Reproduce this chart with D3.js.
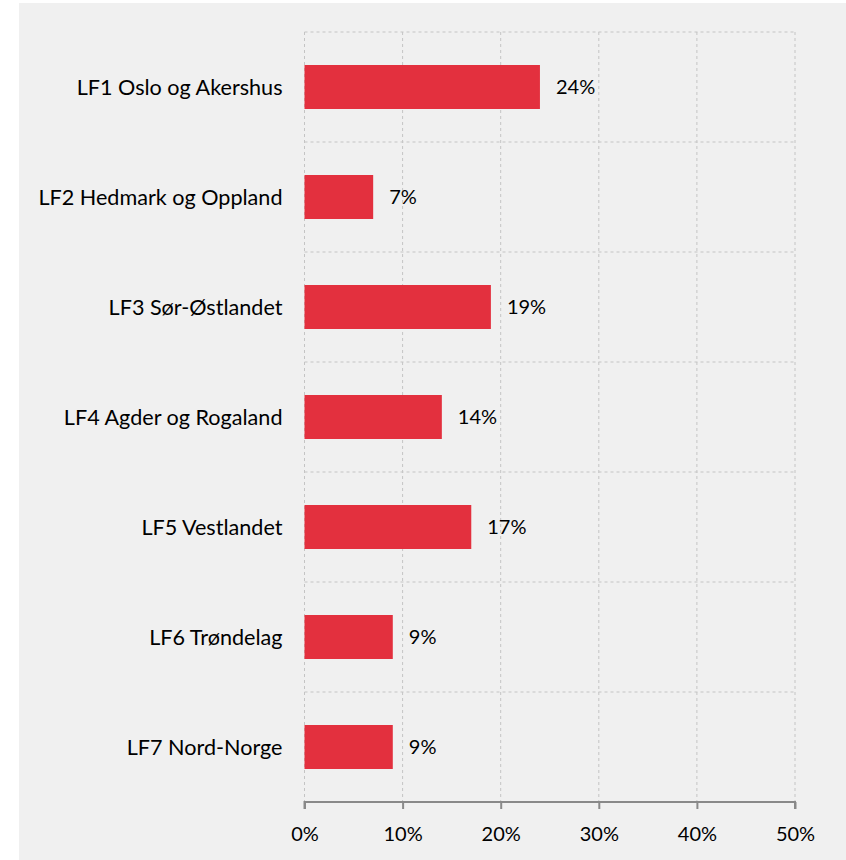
<!DOCTYPE html>
<html><head><meta charset="utf-8">
<script src="https://cdn.jsdelivr.net/npm/d3@7"></script>
<style>body{margin:0;background:#fff}svg{display:block}</style>
</head><body>
<script>
const categories = ["LF1 Oslo og Akershus","LF2 Hedmark og Oppland","LF3 Sør-Østlandet","LF4 Agder og Rogaland","LF5 Vestlandet","LF6 Trøndelag","LF7 Nord-Norge"];
const values = [24, 7, 19, 14, 17, 9, 9];
const ticks = [0, 10, 20, 30, 40, 50];

const W = 846, H = 860;
const m = {left: 304.5, right: 795, top: 32, bottom: 802};
const svg = d3.select("body").append("svg").attr("width", W).attr("height", H);
svg.append("rect").attr("x", 19).attr("y", 3).attr("width", W - 19).attr("height", H - 3).attr("fill", "#f0f0f0");

const x = d3.scaleLinear().domain([0, 50]).range([m.left, m.right]);
const y = d3.scaleBand().domain(categories).range([m.top, m.bottom]).paddingInner(0.6).paddingOuter(0.3);
const font = "Lato, 'Open Sans', sans-serif";

// grid
const g = svg.append("g");
g.selectAll(".vg").data(ticks).join("line")
  .attr("x1", d => x(d)).attr("x2", d => x(d)).attr("y1", m.top).attr("y2", m.bottom)
  .attr("stroke", "#c4c4c4").attr("stroke-dasharray", "3,3");
const bounds = d3.range(categories.length).map(i => m.top + i * (m.bottom - m.top) / categories.length);
g.selectAll(".hg").data(bounds).join("line")
  .attr("x1", m.left).attr("x2", m.right).attr("y1", d => d).attr("y2", d => d)
  .attr("stroke", "#c4c4c4").attr("stroke-dasharray", "3,3");

// bars
svg.selectAll(".bar").data(values).join("rect")
  .attr("x", x(0)).attr("y", (d, i) => y(categories[i]))
  .attr("width", d => x(d) - x(0)).attr("height", y.bandwidth())
  .attr("fill", "#e3303e");

svg.selectAll(".val").data(values).join("text")
  .attr("x", d => x(d) + 16).attr("y", (d, i) => y(categories[i]) + y.bandwidth() / 2)
  .attr("dy", "0.36em").attr("font-family", font).attr("font-size", 20).attr("fill", "#000")
  .text(d => d + "%");

// category labels
svg.selectAll(".cat").data(categories).join("text")
  .attr("x", m.left - 22).attr("y", d => y(d) + y.bandwidth() / 2)
  .attr("dy", "0.36em").attr("text-anchor", "end")
  .attr("font-family", font).attr("font-size", 21.6).attr("fill", "#000")
  .text(d => d);

// x axis
const ax = svg.append("g").attr("transform", `translate(0,${m.bottom})`)
  .call(d3.axisBottom(x).tickValues(ticks).tickFormat(d => d + "%").tickSize(7));
ax.select(".domain").attr("stroke", "#898989").attr("stroke-width", 2).attr("d", `M${m.left},7V0H${m.right}V7`);
ax.selectAll(".tick line").attr("stroke", "#898989").attr("stroke-width", 2);
ax.selectAll(".tick text").attr("y", 39).attr("dy", null)
  .attr("font-family", font).attr("font-size", 20).attr("fill", "#000");
</script>
</body></html>
